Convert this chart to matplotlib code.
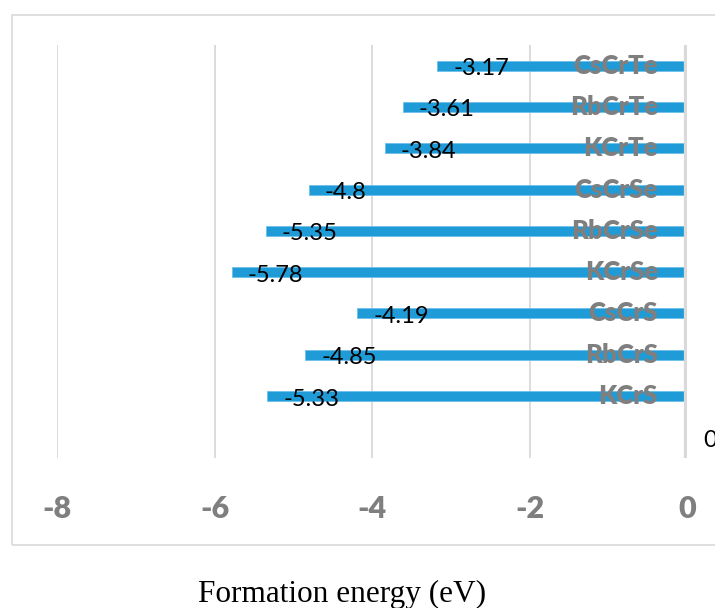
import matplotlib.pyplot as plt
from matplotlib.patches import Rectangle
from matplotlib.transforms import offset_copy

# data, top to bottom
compounds = ['CsCrTe', 'RbCrTe', 'KCrTe', 'CsCrSe', 'RbCrSe', 'KCrSe',
             'CsCrS', 'RbCrS', 'KCrS', '']
energies = [-3.17, -3.61, -3.84, -4.8, -5.35, -5.78, -4.19, -4.85, -5.33, 0]
xticks = [-8, -6, -4, -2, 0]

W, H = 715, 608
fig = plt.figure(figsize=(W / 100, H / 100), dpi=100)

# outer chart frame (Excel style), right side runs off the picture
fig.patches.append(Rectangle((12 / W, 1 - 545 / H), 720 / W, 530 / H,
                             transform=fig.transFigure, fill=False,
                             edgecolor='#D9D9D9', linewidth=1.2))

ax = fig.add_axes([57 / W, 1 - 458 / H, (687 - 57) / W, (458 - 45) / H])
ax.set_xlim(-8, 0)
ax.set_ylim(len(compounds) - 0.5, -0.5)

pos = list(range(len(compounds)))
ax.barh(pos, energies, height=0.24, color='#1F9BD7', edgecolor='#6CC0EA',
        linewidth=0.6, zorder=3)

for x in xticks[:-1]:
    ax.axvline(x, color='#D9D9D9', linewidth=1.3, zorder=1)
ax.axvline(0, color='#D9D9D9', linewidth=4.5, zorder=4)

# value labels just inside the bar end
lab_tr = offset_copy(ax.transData, fig=fig, x=16, y=-3, units='dots')
for p, v in zip(pos, energies):
    ax.text(v, p, f'{v:g}', transform=lab_tr, ha='left', va='center',
            fontsize=17, family='Lato', color='black', zorder=5,
            clip_on=False)

# compound names near the zero line
name_tr = offset_copy(ax.transData, fig=fig, x=-29, y=0, units='dots')
for p, name in zip(pos, compounds):
    ax.text(0, p, name, transform=name_tr, ha='right', va='center',
            fontsize=18.5, family='Lato', fontweight='heavy', color='#7F7F7F',
            zorder=6)

ax.set_xticks(xticks)
ax.set_xticklabels([str(t) for t in xticks], fontsize=22, family='Lato',
                   fontweight='heavy', color='#7F7F7F')
ax.tick_params(axis='x', length=0, pad=27)
ax.set_yticks([])
for s in ax.spines.values():
    s.set_visible(False)

fig.text(342 / W, 1 - 594 / H, 'Formation energy (eV)', ha='center',
         va='center', fontsize=22.5, family='Liberation Serif', color='black')

fig.savefig('out.png', dpi=100)
